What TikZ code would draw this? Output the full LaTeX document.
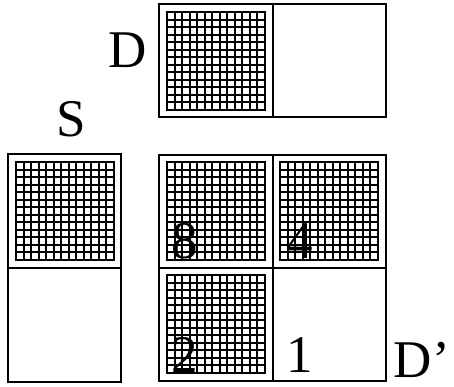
\documentclass[tikz,border=0pt]{standalone}
\usepackage{fontspec}
\setmainfont{Liberation Serif}
\usepackage{tikz}

\tikzset{
  cellbox/.style={line width=2.4pt},
  meshline/.style={line width=2pt},
  biglabel/.style={font=\fontsize{53}{53}\selectfont, inner sep=0pt}
}

% hatched square: top-left corner at pixel (x,y), side 98
\newcommand{\meshsquare}[2]{%
  \foreach \k in {1,...,12}{
    \draw[meshline] ({#1+\k*98/13},#2) -- ({#1+\k*98/13},{#2+98});
    \draw[meshline] (#1,{#2+\k*98/13}) -- ({#1+98},{#2+\k*98/13});
  }
  \draw[meshline] (#1,#2) rectangle ({#1+98},{#2+98});
}

\begin{document}
\begin{tikzpicture}[x=1pt,y=-1pt]
  \useasboundingbox (0,0) rectangle (454,387);
  % 1. the D row (two cells)
  \draw[cellbox] (159,4) rectangle (386,117);
  \draw[cellbox] (273,4) -- (273,117);
  \meshsquare{167}{12}
  % 2. the S column (two cells)
  \draw[cellbox] (8,154) rectangle (121,382);
  \draw[cellbox] (8,268) -- (121,268);
  \meshsquare{16}{162}
  % 3. the D' block (four cells)
  \draw[cellbox] (159,155) rectangle (386,381);
  \draw[cellbox] (273,155) -- (273,381);
  \draw[cellbox] (159,268) -- (386,268);
  \meshsquare{167}{162}
  \meshsquare{280}{162}
  \meshsquare{167}{275}
  % labels
  \node[biglabel, anchor=base] (labD) at (128,68) {D};
  \node[biglabel, anchor=base] (labS) at (71,137) {S};
  \node[biglabel, anchor=base east] (labDp) at (450,377) {D’};
  % cell numbers
  \node[biglabel, anchor=base west] (n8) at (171,258) {8};
  \node[biglabel, anchor=base west] (n4) at (286,258) {4};
  \node[biglabel, anchor=base west] (n2) at (171,372) {2};
  \node[biglabel, anchor=base west] (n1) at (286,372) {1};
\end{tikzpicture}
\end{document}
